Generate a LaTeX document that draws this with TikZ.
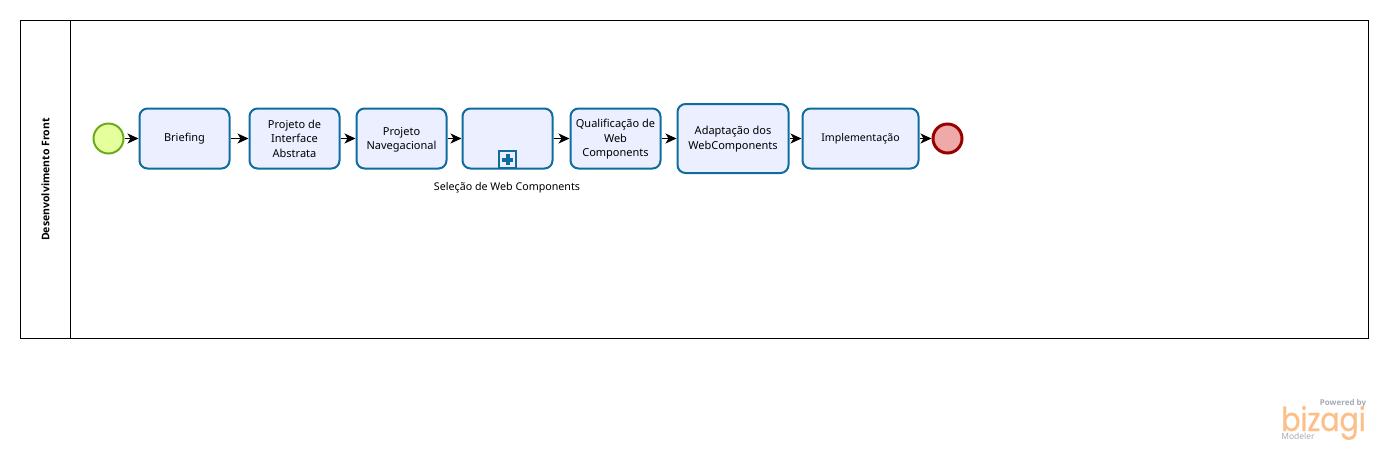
\documentclass[tikz,border=0pt]{standalone}
\usepackage{fontspec}
\setmainfont{Noto Sans}
\newfontfamily\logofont[FakeStretch=0.86, FakeBold=0.7]{Poppins}
\newfontfamily\boldfont{Open Sans}
\usetikzlibrary{arrows.meta, positioning}
\definecolor{taskblue}{HTML}{0F6C9E}
\definecolor{taskfill}{HTML}{ECEFFF}
\definecolor{startline}{HTML}{6DA91C}
\definecolor{startfill}{HTML}{E4FF9B}
\definecolor{endline}{HTML}{990000}
\definecolor{endfill}{HTML}{EFA9A9}
\definecolor{logoorange}{HTML}{FBC08A}
\definecolor{logogray}{HTML}{A4ABB2}
\tikzset{
	task/.style={draw=taskblue, fill=taskfill, line width=2pt, rounded corners=8pt, minimum width=90pt, minimum height=60pt, inner sep=0pt, align=center, font=\fontsize{11}{14.5}\selectfont},
	startev/.style={draw=startline, fill=startfill, line width=2pt, circle, minimum size=30pt, inner sep=0pt},
	endev/.style={draw=endline, fill=endfill, line width=3pt, circle, minimum size=29pt, inner sep=0pt},
	flow/.style={-{Stealth[length=11pt, width=10pt, inset=3pt]}, line width=1.2pt, black},
	label/.style={font=\fontsize{10.7}{13}\selectfont, inner sep=0pt}
}
\begin{document}
\begin{tikzpicture}[x=1pt, y=-1pt]
	\useasboundingbox (0,0) rectangle (1388,451);

	% Draw the pool
	\node[draw, line width=1pt, minimum width=1348pt, minimum height=318pt, inner sep=0pt, outer sep=0pt] (pool) at (694,179) {};
	\node[draw, line width=1pt, minimum width=50pt, minimum height=318pt, inner sep=0pt, outer sep=0pt] (header) at (45,179) {};
	\node[rotate=90, font=\boldfont\fontsize{10.5}{13}\selectfont\bfseries, inner sep=0pt] (poolname) at (45.5,179.5) {Desenvolvimento Front};

	% Draw the events and the tasks
	\node[startev] (start) at (108.5,138.5) {};
	\node[task] (briefing) at (184.5,138.5) {Briefing};
	\node[task] (interface) at (294.5,138.5) {Projeto de\\Interface\\Abstrata};
	\node[task, text height=25.5pt] (navegacional) at (401.5,138.5) {Projeto\\Navegacional};
	\node[task] (selecao) at (507.5,138.5) {};
	\node[task, text height=39pt] (qualificacao) at (615.5,138.5) {Qualificação de\\Web\\Components};
	\node[task, text height=24.5pt, minimum width=111pt, minimum height=69pt] (adaptacao) at (733,138.5) {Adaptação dos\\WebComponents};
	\node[task, minimum width=116pt, font=\fontsize{10.6}{14.5}\selectfont] (implementacao) at (860.5,138.5) {Implementação};
	\node[endev] (end) at (947.5,138.5) {};

	% Draw the subprocess marker
	\node[draw=taskblue, fill=taskfill, line width=2pt, minimum size=17pt, inner sep=0pt] (marker) at (507.5,159.5) {};
	\node[fill=taskblue, minimum width=11pt, minimum height=4pt, inner sep=0pt] (plusa) at (marker) {};
	\node[fill=taskblue, minimum width=4pt, minimum height=11pt, inner sep=0pt] (plusb) at (marker) {};
	\node[label] (selecaolabel) at (507,187.5) {Seleção de Web Components};

	% Draw the flows
	\draw[flow] (start) -- (briefing);
	\draw[flow] (briefing) -- (interface);
	\draw[flow] (interface) -- (navegacional);
	\draw[flow] (navegacional) -- (selecao);
	\draw[flow] (selecao) -- (qualificacao);
	\draw[flow] (qualificacao) -- (qualificacao -| adaptacao.west);
	\draw[flow] (adaptacao.east |- implementacao) -- (implementacao);
	\draw[flow] (implementacao) -- (end);

	% Draw the logo
	\node[font=\boldfont\fontsize{8}{10}\selectfont\bfseries, text=logogray, inner sep=0pt] (powered) at (1343,403) {Powered by};
	\node[font=\logofont\fontsize{33}{33}\selectfont, text=logoorange, inner sep=0pt, text height=16pt, text depth=0pt, anchor=base] (bizagi) at (1323.5,431) {bizagi};
	\node[font=\fontsize{8.5}{11}\selectfont, text=logogray, inner sep=0pt] (modeler) at (1298,436.5) {Modeler};
\end{tikzpicture}
\end{document}
